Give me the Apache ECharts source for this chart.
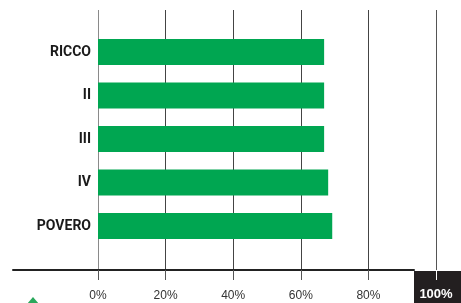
<!DOCTYPE html>
<html>
<head>
<meta charset="utf-8">
<title>Quintili</title>
<script src="https://cdn.jsdelivr.net/npm/echarts@6/dist/echarts.min.js"></script>
<style>
    html, body { margin: 0; padding: 0; background: #fff; }
    #chart { width: 461px; height: 303px; }
</style>
</head>
<body>
<div id="chart"></div>
<script>
    // dati
    var categories = ['RICCO', 'II', 'III', 'IV', 'POVERO'];
    var values = [66.9, 66.9, 66.9, 68.1, 69.3];
    var tickValues = [0, 20, 40, 60, 80];
    var lastTick = [100];

    var green = '#00a651';

    var option = {
        animation: false,
        grid: [
            // griglia verticale + etichette
            {left: 98, right: 25, top: 10, bottom: 33},
            // barre
            {left: 98, right: 25, top: 30.25, bottom: 55.25},
            // linea dell'asse lunga
            {left: 13, right: 47, top: 10, bottom: 33}
        ],
        xAxis: [
            {
                gridIndex: 0, type: 'value', min: 0, max: 100, interval: 20, position: 'bottom',
                axisLine: {show: false},
                axisTick: {show: true, length: 10, lineStyle: {color: '#555', width: 1}},
                axisLabel: {customValues: tickValues, formatter: '{value}%', margin: 20,
                    color: '#333', fontSize: 12, fontFamily: 'Liberation Sans, Arial, sans-serif'},
                splitLine: {show: true, showMinLine: true, showMaxLine: true, lineStyle: {
                    color: ['#8a8a8a', '#444', '#444', '#444', '#444', '#555'], width: 1}}
            },
            {
                // tacca bianca e etichetta del 100% sul riquadro nero
                gridIndex: 0, type: 'value', min: 0, max: 100, interval: 20, z: 5, position: 'bottom',
                axisLine: {show: false},
                axisTick: {show: true, length: 10, customValues: lastTick,
                    lineStyle: {color: '#fff', width: 1}},
                axisLabel: {customValues: lastTick, formatter: '{value}%', margin: 18,
                    color: '#fff', fontSize: 13, fontWeight: 'bold',
                    fontFamily: 'Liberation Sans, Arial, sans-serif'},
                splitLine: {show: false}
            },
            {
                gridIndex: 1, type: 'value', min: 0, max: 100, show: false
            },
            {
                gridIndex: 2, type: 'value', min: 0, max: 100, position: 'bottom',
                axisLine: {show: true, lineStyle: {color: '#222', width: 2}},
                axisTick: {show: false},
                axisLabel: {show: false},
                splitLine: {show: false}
            }
        ],
        yAxis: [
            {gridIndex: 0, type: 'value', show: false},
            {
                gridIndex: 1, type: 'category', data: categories, inverse: true,
                axisLine: {show: false},
                axisTick: {show: false},
                axisLabel: {margin: 7, color: '#1a1a1a', fontSize: 14, fontWeight: 'bold',
                    fontFamily: 'Roboto, sans-serif'}
            },
            {gridIndex: 2, type: 'value', show: false}
        ],
        series: [{
            type: 'bar',
            xAxisIndex: 2,
            yAxisIndex: 1,
            data: values,
            barWidth: 26,
            itemStyle: {color: green},
            z: 3
        }],
        graphic: [
            {
                type: 'rect', z: 1,
                shape: {x: 414, y: 271, width: 47, height: 32},
                style: {fill: '#231f20'}
            },
            {
                type: 'polygon',
                shape: {points: [[33, 297], [27, 304], [39, 304]]},
                style: {fill: '#2aa85c'}
            }
        ]
    };

    var myChart = echarts.init(document.getElementById('chart'));
    myChart.setOption(option);
</script>
</body>
</html>
